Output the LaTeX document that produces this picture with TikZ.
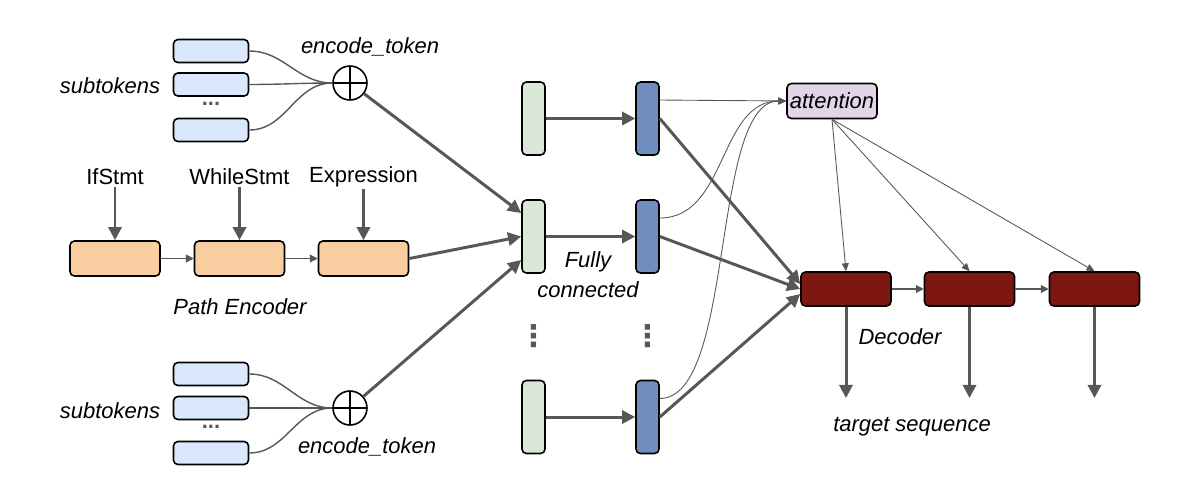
\documentclass[tikz,border=0pt]{standalone}
\usepackage{fontspec}
\setmainfont{Liberation Sans}
\newfontfamily\symfont{DejaVu Sans}
\usetikzlibrary{arrows.meta}

\definecolor{tokenfill}{HTML}{DAE8FC}
\definecolor{pathfill}{HTML}{F8CDA0}
\definecolor{infill}{HTML}{D9E8D6}
\definecolor{outfill}{HTML}{6F8EBF}
\definecolor{attnfill}{HTML}{E1D5E7}
\definecolor{decfill}{HTML}{7E1711}
\definecolor{arrowgray}{HTML}{575757}

\begin{document}
\begin{tikzpicture} [
    x=0.02cm, y=-0.02cm,
    every node/.style = { font=\fontsize{12.5}{17}\selectfont },
    box/.style      = { rectangle, rounded corners=2.5pt, draw=black,
                        line width=0.9pt, inner sep=0pt },
    token/.style    = { box, fill=tokenfill, minimum width=1.5cm,
                        minimum height=0.46cm },
    pathbox/.style  = { box, fill=pathfill, minimum width=1.8cm,
                        minimum height=0.7cm },
    inbox/.style    = { box, fill=infill, minimum width=0.46cm,
                        minimum height=1.46cm },
    outbox/.style   = { box, fill=outfill, minimum width=0.46cm,
                        minimum height=1.46cm },
    decbox/.style   = { box, fill=decfill, minimum width=1.8cm,
                        minimum height=0.68cm },
    attnbox/.style  = { box, fill=attnfill, minimum width=1.8cm,
                        minimum height=0.7cm, font=\fontsize{12.5}{15}\selectfont\itshape },
    oplus/.style    = { circle, draw=black, line width=0.9pt, minimum size=0.68cm,
                        inner sep=0pt,
                        path picture={\draw[line width=0.9pt]
                          (path picture bounding box.north) -- (path picture bounding box.south)
                          (path picture bounding box.west) -- (path picture bounding box.east);} },
    label/.style    = { text=black, inner sep=1pt, font=\fontsize{12.5}{17}\selectfont\itshape },
    ast/.style      = { text=black, inner sep=1pt },
    dots/.style     = { text=arrowgray, inner sep=0pt, font=\fontsize{12.5}{15}\selectfont\bfseries },
    vdots/.style    = { text=arrowgray, inner sep=0pt, font=\fontsize{17}{17}\symfont\bfseries },
    line/.style     = { draw=arrowgray, line width=1.7pt,
                        -{Triangle[length=7.5pt,width=7.5pt]} },
    thinline/.style = { draw=arrowgray, line width=0.7pt,
                        -{Triangle[length=4.5pt,width=4.5pt]} },
    attnline/.style = { draw=arrowgray, line width=0.5pt,
                        -{Triangle[length=4.5pt,width=4pt]} },
    mergeline/.style= { draw=arrowgray, line width=0.8pt },
  ]

  \useasboundingbox (0,0) rectangle (1184,488);

  % subtokens (top)
  \node[token] (tokA1) at (211,51) {};
  \node[token] (tokA2) at (211,84.5) {};
  \node[dots]  (dotsA) at (211,104) {...};
  \node[token] (tokA3) at (211,130) {};
  \node[oplus] (sumA)  at (350,83) {};
  \node[label] (subA)  at (110,86) {subtokens};
  \node[label] (encA)  at (370,47) {encode\_token};

  % subtokens (bottom)
  \node[token] (tokB1) at (211,374) {};
  \node[token] (tokB2) at (211,408) {};
  \node[dots]  (dotsB) at (211,427) {...};
  \node[token] (tokB3) at (211,453) {};
  \node[oplus] (sumB)  at (350,408) {};
  \node[label] (subB)  at (110,411) {subtokens};
  \node[label] (encB)  at (367,447) {encode\_token};

  % path encoder
  \node[ast]     (astIf)    at (115,177)   {IfStmt};
  \node[ast]     (astWhile) at (239.5,177) {WhileStmt};
  \node[ast]     (astExpr)  at (363.5,177) {Expression};
  \node[pathbox] (path1)    at (115,258.5)   {};
  \node[pathbox] (path2)    at (239.5,258.5) {};
  \node[pathbox] (path3)    at (363.5,258.5) {};
  \node[label]   (pathlbl)  at (240,307) {Path Encoder};

  % fully connected
  \node[inbox]  (inA)  at (533.5,118.5) {};
  \node[inbox]  (inB)  at (533.5,236.5) {};
  \node[inbox]  (inC)  at (533.5,417)   {};
  \node[outbox] (outA) at (647.5,118.5) {};
  \node[outbox] (outB) at (647.5,236.5) {};
  \node[outbox] (outC) at (647.5,417)   {};
  \node[vdots]  (vdA)  at (533.5,336) {⋮};
  \node[vdots]  (vdB)  at (647.5,336) {⋮};
  \node[label, align=center] (fclbl) at (588,275) {Fully\\connected};

  % attention and decoder
  \node[attnbox] (attn) at (832,101) {attention};
  \node[decbox]  (dec1) at (846,289)    {};
  \node[decbox]  (dec2) at (969.5,289)  {};
  \node[decbox]  (dec3) at (1094.5,289) {};
  \coordinate (tgt1) at (846,398);
  \coordinate (tgt2) at (969.5,398);
  \coordinate (tgt3) at (1094.5,398);
  \node[label] (declbl) at (900,337) {Decoder};
  \node[label] (tgtlbl) at (912,427) {target sequence};

  % connect the nodes
		\path [mergeline] (tokA1.east) to[out=0,in=180] (sumA.west);
		\path [mergeline] (tokA2.east) to[out=0,in=180] (sumA.west);
		\path [mergeline] (tokA3.east) to[out=0,in=180] (sumA.west);
		\path [mergeline] (tokB1.east) to[out=0,in=180] (sumB.west);
		\path [mergeline] (tokB2.east) to[out=0,in=180] (sumB.west);
		\path [mergeline] (tokB3.east) to[out=0,in=180] (sumB.west);
		\path [line] (astIf) -- (path1);
		\path [line] (astWhile) -- (path2);
		\path [line] (astExpr) -- (path3);
		\path [thinline] (path1) -- (path2);
		\path [thinline] (path2) -- (path3);
		\path [line] (sumA) -- ([yshift=4.7mm]inB.west);
		\path [line] (path3.east) -- (inB.west);
		\path [line] (sumB) -- ([yshift=-4.7mm]inB.west);
		\path [line] (inA) -- (outA);
		\path [line] (inB) -- (outB);
		\path [line] (inC) -- (outC);
		\path [attnline] ([yshift=3.7mm]outA.east) -- (attn.west);
		\path [attnline] ([yshift=3.7mm]outB.east) to[out=0,in=180] (attn.west);
		\path [attnline] ([yshift=3.7mm]outC.east) to[out=0,in=180,looseness=0.6] (attn.west);
		\path [line] (outA.east) -- ([yshift=1mm]dec1.west);
		\path [line] (outB.east) -- (dec1.west);
		\path [line] (outC.east) -- ([yshift=-1mm]dec1.west);
		\path [attnline] (attn.south) -- (dec1.north);
		\path [attnline] (attn.south) -- (dec2.north);
		\path [attnline] (attn.south) -- (dec3.north);
		\path [thinline] (dec1) -- (dec2);
		\path [thinline] (dec2) -- (dec3);
		\path [line] (dec1) -- (tgt1);
		\path [line] (dec2) -- (tgt2);
		\path [line] (dec3) -- (tgt3);
\end{tikzpicture}
\end{document}
